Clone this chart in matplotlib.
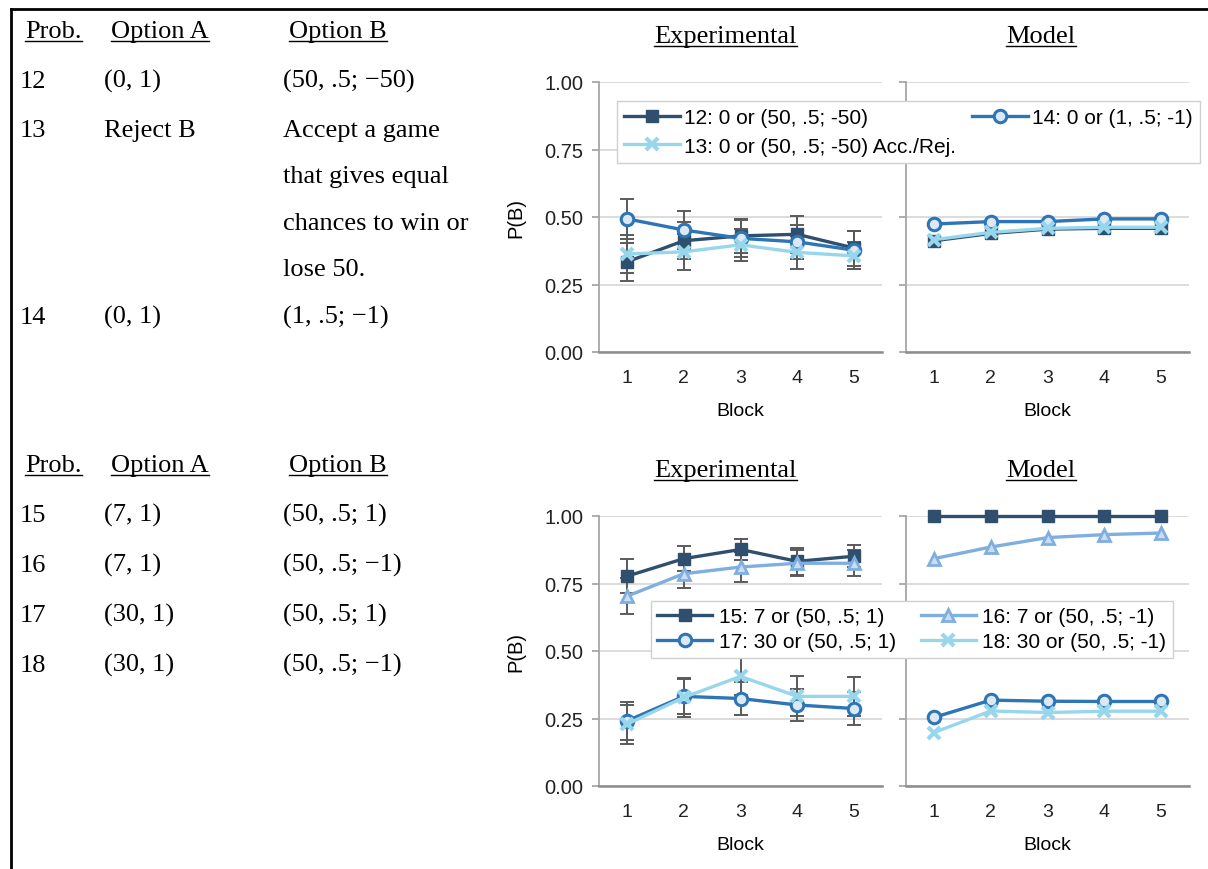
import matplotlib
matplotlib.use("Agg")
import matplotlib.pyplot as plt
from matplotlib.lines import Line2D

W, H = 1208, 870

blocks = [1, 2, 3, 4, 5]

# top panel: problems 12-14
exp_12 = [0.334, 0.412, 0.430, 0.436, 0.385]
exp_12_err = [0.070, 0.068, 0.062, 0.068, 0.065]
exp_13 = [0.363, 0.371, 0.397, 0.369, 0.356]
exp_13_err = [0.070, 0.067, 0.060, 0.062, 0.050]
exp_14 = [0.493, 0.452, 0.421, 0.408, 0.377]
exp_14_err = [0.074, 0.071, 0.068, 0.062, 0.070]
model_12 = [0.412, 0.439, 0.455, 0.458, 0.458]
model_13 = [0.416, 0.443, 0.458, 0.462, 0.462]
model_14 = [0.474, 0.483, 0.483, 0.493, 0.493]

# bottom panel: problems 15-18
exp_15 = [0.777, 0.842, 0.876, 0.832, 0.851]
exp_15_err = [0.062, 0.047, 0.040, 0.050, 0.040]
exp_16 = [0.703, 0.786, 0.811, 0.825, 0.825]
exp_16_err = [0.066, 0.052, 0.054, 0.048, 0.048]
exp_17 = [0.241, 0.332, 0.324, 0.300, 0.287]
exp_17_err = [0.070, 0.065, 0.062, 0.060, 0.062]
exp_18 = [0.229, 0.328, 0.406, 0.332, 0.332]
exp_18_err = [0.072, 0.072, 0.070, 0.074, 0.073]
model_15 = [1.0, 1.0, 1.0, 1.0, 1.0]
model_16 = [0.842, 0.885, 0.920, 0.931, 0.937]
model_17 = [0.254, 0.318, 0.314, 0.313, 0.313]
model_18 = [0.198, 0.278, 0.272, 0.277, 0.277]

labels_top = ["12: 0 or (50, .5; -50)", "13: 0 or (50, .5; -50) Acc./Rej.",
              "14: 0 or (1, .5; -1)"]
labels_bot = ["15: 7 or (50, .5; 1)", "17: 30 or (50, .5; 1)",
              "16: 7 or (50, .5; -1)", "18: 30 or (50, .5; -1)"]

table_top = [
    ("12", "(0, 1)", "(50, .5; \u221250)"),
    ("13", "Reject B", "Accept a game"),
    ("", "", "that gives equal"),
    ("", "", "chances to win or"),
    ("", "", "lose 50."),
    ("14", "(0, 1)", "(1, .5; \u22121)"),
]
table_bot = [
    ("15", "(7, 1)", "(50, .5; 1)"),
    ("16", "(7, 1)", "(50, .5; \u22121)"),
    ("17", "(30, 1)", "(50, .5; 1)"),
    ("18", "(30, 1)", "(50, .5; \u22121)"),
]

DARK = "#2F4F6E"
BLUE = "#2E75B6"
SKY = "#98D6EC"
LIGHT = "#7FAEE0"
ERR = "#5A5A5A"

SANS = "Liberation Sans"
SERIF = "Liberation Serif"

styles = {
    "12": dict(color=DARK, marker="s", ms=9, mfc=DARK, mec=DARK),
    "13": dict(color=SKY, marker="x", ms=8, mec=SKY, mew=3),
    "14": dict(color=BLUE, marker="o", ms=9, mfc="#DCE8F4", mec=BLUE, mew=2.2),
    "15": dict(color=DARK, marker="s", ms=9, mfc=DARK, mec=DARK),
    "16": dict(color=LIGHT, marker="^", ms=9, mfc="#C9DCF2", mec=LIGHT, mew=2),
    "17": dict(color=BLUE, marker="o", ms=9, mfc="#DCE8F4", mec=BLUE, mew=2.2),
    "18": dict(color=SKY, marker="x", ms=8, mec=SKY, mew=3),
}

fig = plt.figure(figsize=(W / 100, H / 100), dpi=100)


def px_axes(x0, y_top, x1, y_bot):
    return fig.add_axes([x0 / W, 1 - y_bot / H, (x1 - x0) / W, (y_bot - y_top) / H])


def style_axes(ax, show_labels):
    ax.set_xlim(0.5, 5.5)
    ax.set_ylim(0, 1)
    ax.set_xticks(blocks)
    ax.set_yticks([0, 0.25, 0.5, 0.75, 1.0])
    ax.yaxis.grid(True, color="#D9D9D9", lw=1.3)
    ax.set_axisbelow(True)
    for s in ("top", "right"):
        ax.spines[s].set_visible(False)
    ax.spines["left"].set_color("#A6A6A6")
    ax.spines["left"].set_linewidth(1.3)
    ax.spines["bottom"].set_color("#8C8C8C")
    ax.spines["bottom"].set_linewidth(1.8)
    ax.tick_params(axis="x", length=0, pad=12, labelsize=14, labelcolor="#222222")
    ax.tick_params(axis="y", length=5, color="#A6A6A6", width=1.3, labelsize=14.5,
                   labelcolor="#222222", pad=6)
    for lab in ax.get_xticklabels() + ax.get_yticklabels():
        lab.set_family(SANS)
    if show_labels:
        ax.set_yticklabels(["0.00", "0.25", "0.50", "0.75", "1.00"])
        ax.set_ylabel("P(B)", family=SANS, fontsize=14.5, labelpad=14)
    else:
        ax.set_yticklabels([])
    ax.set_xlabel("Block", family=SANS, fontsize=14, labelpad=12)


def draw_exp(ax, keys, series, errs):
    for k, y, e in zip(keys, series, errs):
        ax.errorbar(blocks, y, yerr=e, fmt="none", ecolor=ERR, elinewidth=1.4,
                    capsize=5, capthick=1.4, zorder=2)
    handles = {}
    for k, y in zip(keys, series):
        (h,) = ax.plot(blocks, y, lw=2.4, zorder=3, clip_on=False, **styles[k])
        handles[k] = h
    return handles


def draw_model(ax, keys, series):
    handles = {}
    for k, y in zip(keys, series):
        (h,) = ax.plot(blocks, y, lw=2.4, zorder=3, clip_on=False, **styles[k])
        handles[k] = h
    return handles


ax_te = px_axes(598.6, 83, 882.4, 353)
ax_tm = px_axes(905.6, 83, 1189.4, 353)
ax_be = px_axes(598.6, 517, 882.4, 787)
ax_bm = px_axes(905.6, 517, 1189.4, 787)
style_axes(ax_te, True)
style_axes(ax_tm, False)
style_axes(ax_be, True)
style_axes(ax_bm, False)

ht = draw_exp(ax_te, ["12", "14", "13"], [exp_12, exp_14, exp_13],
              [exp_12_err, exp_14_err, exp_13_err])
draw_model(ax_tm, ["12", "14", "13"], [model_12, model_14, model_13])
hb = draw_exp(ax_be, ["15", "16", "17", "18"], [exp_15, exp_16, exp_17, exp_18],
              [exp_15_err, exp_16_err, exp_17_err, exp_18_err])
draw_model(ax_bm, ["15", "16", "17", "18"], [model_15, model_16, model_17, model_18])

leg_kw = dict(ncol=2, loc="upper left", borderaxespad=0, fancybox=False,
              framealpha=1, edgecolor="#D0D0D0", handlelength=2.65,
              prop={"family": SANS, "size": 15})
lt = fig.legend([ht["12"], ht["13"], ht["14"]], labels_top,
                bbox_to_anchor=(617 / W, 1 - 102 / H), columnspacing=0.8,
                handletextpad=0.2, labelspacing=0.45, borderpad=0.35, **leg_kw)
lb = fig.legend([hb["15"], hb["17"], hb["16"], hb["18"]], labels_bot,
                bbox_to_anchor=(651 / W, 1 - 602 / H), columnspacing=1.2,
                handletextpad=0.3, labelspacing=0.3, borderpad=0.3, **leg_kw)
lt.set_zorder(10)
lb.set_zorder(10)

underlined = []


def ftext(x, y, s, ha="left", ul=False):
    t = fig.text(x / W, 1 - y / H, s, ha=ha, va="baseline", family=SERIF,
                 fontsize=19, color="black")
    if ul:
        underlined.append((t, y))
    return t


# left-hand table headers
for base in (38, 472):
    ftext(25, base, "Prob.", ul=True)
    ftext(111, base, "Option A", ul=True)
    ftext(289, base, "Option B", ul=True)

row_y_top = [88, 137, 183, 230, 276, 324]
for (p, a, b), y in zip(table_top, row_y_top):
    ftext(20, y, p)
    ftext(104, y, a)
    ftext(283, y, b)

row_y_bot = [522, 572, 622, 672]
for (p, a, b), y in zip(table_bot, row_y_bot):
    ftext(20, y, p)
    ftext(104, y, a)
    ftext(283, y, b)

ftext(725.5, 43, "Experimental", ha="center", ul=True)
ftext(1041, 43, "Model", ha="center", ul=True)
ftext(725.5, 477, "Experimental", ha="center", ul=True)
ftext(1041, 477, "Model", ha="center", ul=True)

fig.canvas.draw()
renderer = fig.canvas.get_renderer()
for t, y in underlined:
    bb = t.get_window_extent(renderer)
    yy = 1 - (y + 4) / H
    fig.add_artist(Line2D([bb.x0 / W, bb.x1 / W], [yy, yy], transform=fig.transFigure,
                          color="black", lw=1.0))

# frame lines of the table
fig.add_artist(Line2D([10.5 / W, 1.0], [1 - 9.5 / H, 1 - 9.5 / H],
                      transform=fig.transFigure, color="black", lw=2.0))
fig.add_artist(Line2D([11 / W, 11 / W], [0, 1 - 9.5 / H],
                      transform=fig.transFigure, color="black", lw=2.0))

fig.savefig("out.png", dpi=100)
